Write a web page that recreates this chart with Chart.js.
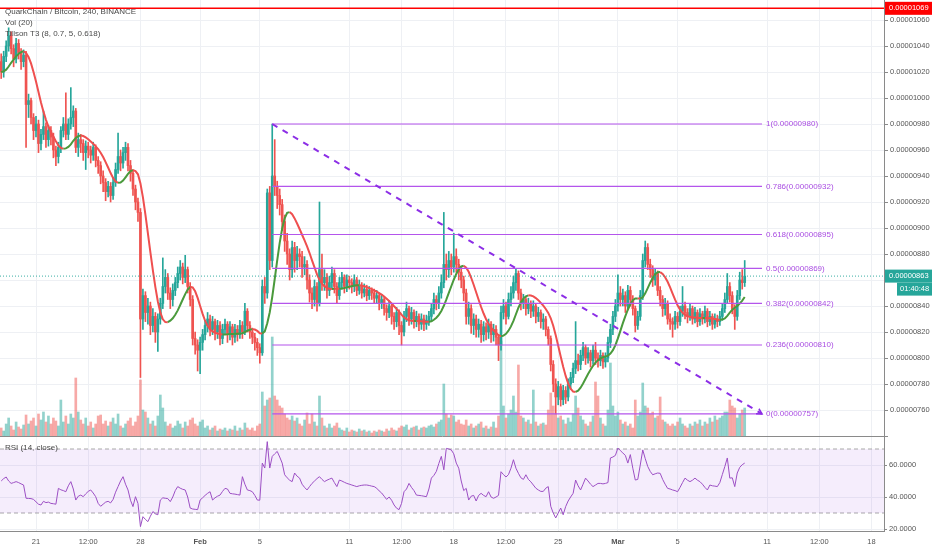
<!DOCTYPE html>
<html>
<head>
<meta charset="utf-8">
<script src="https://cdn.jsdelivr.net/npm/chart.js@4.4.1/dist/chart.umd.min.js"></script>
<style>
    body { margin: 0; background: #fff; }
    #wrap { position: relative; width: 932px; height: 550px; overflow: hidden; }
    #main { position: absolute; left: 0; top: 0; }
    #rsi { position: absolute; left: 0; top: 437px; }
</style>
</head>
<body>
<div id="wrap">
    <canvas id="main" width="932" height="437"></canvas>
    <canvas id="rsi" width="932" height="113"></canvas>
</div>
<script>
// prices in satoshi (1e-8 BTC), 4h candles: open, high, low, close
const candles = [
    [1028,1034,1015,1020],[1020,1036,1016,1032],[1032,1044,1028,1040],[1040,1054,1036,1048],[1048,1051,1034,1038],[1038,1041,1024,1030],[1030,1046,1027,1042],[1042,1045,1030,1035],[1035,1038,1022,1028],[1028,1037,1024,1033],
    [1033,1036,962,995],[995,1003,985,998],[998,1000,980,985],[985,988,968,975],[975,986,970,980],[980,983,958,965],[965,976,960,972],[972,990,968,978],[978,981,962,968],[968,979,963,975],
    [975,978,964,970],[970,973,954,960],[960,963,948,955],[955,966,950,962],[962,978,958,975],[975,985,970,980],[980,1004,968,972],[972,984,968,980],[980,1008,976,985],[985,994,978,990],
    [990,992,958,962],[962,973,955,968],[968,972,958,965],[965,968,952,958],[958,967,945,963],[963,966,954,960],[960,963,950,956],[956,966,952,962],[962,964,947,952],[952,955,942,948],
    [948,951,934,940],[940,944,928,935],[935,938,921,928],[928,936,924,932],[932,935,920,925],[925,939,922,935],[935,950,932,945],[945,973,942,955],[955,960,944,950],[950,962,946,958],
    [958,966,952,962],[962,965,944,948],[948,952,936,942],[942,945,925,930],[930,933,914,920],[920,923,905,912],[912,915,785,830],[830,853,822,848],[848,851,828,835],[835,846,826,840],
    [840,843,818,825],[825,838,820,832],[832,835,812,820],[820,834,805,830],[830,846,826,842],[842,877,838,855],[855,868,850,862],[862,865,845,850],[850,854,838,845],[845,857,840,852],
    [852,862,848,858],[858,870,854,865],[865,875,860,870],[870,873,857,862],[862,879,858,868],[868,870,850,855],[855,858,840,845],[845,848,810,815],[815,820,803,810],[810,814,790,806],
    [806,816,788,812],[812,822,806,818],[818,829,814,825],[825,835,820,830],[830,833,817,822],[822,832,818,828],[828,830,814,820],[820,829,815,825],[825,828,810,815],[815,826,811,822],
    [822,830,818,826],[826,828,812,818],[818,828,814,824],[824,826,810,816],[816,826,812,822],[822,825,813,818],[818,829,815,825],[825,828,815,820],[820,842,818,836],[836,838,820,825],
    [825,828,815,820],[820,823,811,816],[816,819,806,812],[812,815,802,808],[808,811,796,804],[804,860,802,855],[855,862,842,850],[850,930,846,927],[927,932,868,875],[875,980,870,940],
    [940,968,925,932],[932,936,915,925],[925,930,910,918],[918,922,898,905],[905,910,882,890],[890,896,872,880],[880,884,860,868],[868,890,862,885],[885,889,866,875],[875,886,868,880],
    [880,884,870,878],[878,882,862,870],[870,878,864,872],[872,875,853,860],[860,864,843,850],[850,854,838,845],[845,860,840,855],[855,858,836,842],[842,920,840,868],[868,880,852,858],
    [858,868,852,862],[862,865,846,852],[852,863,848,858],[858,870,854,865],[865,868,850,855],[855,858,842,848],[848,862,845,858],[858,866,853,862],[862,864,850,855],[855,864,851,860],
    [860,863,853,858],[858,861,850,855],[855,864,851,860],[860,862,848,852],[852,860,849,856],[856,858,846,850],[850,857,847,853],[853,856,844,848],[848,855,845,852],[852,854,845,850],
    [850,853,842,846],[846,852,842,848],[848,850,837,842],[842,849,838,845],[845,847,833,838],[838,841,829,835],[835,844,831,840],[840,842,826,832],[832,835,822,828],[828,839,824,835],
    [835,837,818,825],[825,828,810,820],[820,836,817,832],[832,843,828,838],[838,840,825,830],[830,839,826,835],[835,837,823,828],[828,836,824,832],[832,834,821,826],[826,834,822,830],
    [830,833,821,826],[826,833,822,829],[829,836,825,832],[832,842,828,838],[838,850,834,845],[845,848,837,842],[842,855,838,850],[850,864,846,858],[858,912,854,872],[872,880,860,868],
    [868,882,862,875],[875,880,864,870],[870,896,866,878],[878,884,866,872],[872,876,860,866],[866,870,854,860],[860,863,844,850],[850,853,826,832],[832,843,826,838],[838,841,819,825],
    [825,834,818,830],[830,833,816,822],[822,830,816,826],[826,829,812,818],[818,828,813,824],[824,827,814,820],[820,830,815,826],[826,828,812,818],[818,826,813,822],[822,825,810,816],
    [816,818,798,810],[810,840,806,835],[835,845,830,840],[840,843,826,832],[832,850,830,845],[845,855,840,850],[850,863,846,858],[858,869,852,865],[865,867,845,850],[850,853,837,842],
    [842,849,838,845],[845,847,833,838],[838,846,834,842],[842,844,831,836],[836,844,832,840],[840,842,827,832],[832,839,828,835],[835,837,823,828],[828,834,822,830],[830,832,817,822],
    [822,824,810,815],[815,817,790,795],[795,798,774,780],[780,784,757,770],[770,782,764,778],[778,780,763,768],[768,779,764,775],[775,778,765,770],[770,784,767,780],[780,789,776,785],
    [785,796,781,792],[792,828,788,798],[798,803,790,795],[795,806,791,802],[802,812,798,808],[808,810,795,800],[800,808,796,804],[804,806,793,798],[798,810,795,806],[806,812,795,800],
    [800,804,793,798],[798,806,794,802],[802,804,792,797],[797,804,793,800],[800,816,797,812],[812,826,808,822],[822,836,818,832],[832,845,828,840],[840,864,836,850],[850,855,840,845],
    [845,853,840,848],[848,851,835,840],[840,856,837,852],[852,855,840,845],[845,848,833,838],[838,840,820,825],[825,836,822,832],[832,852,829,848],[848,880,845,875],[875,890,870,885],
    [885,888,868,872],[872,876,862,868],[868,871,855,860],[860,869,856,865],[865,867,848,852],[852,855,840,845],[845,848,832,838],[838,846,833,842],[842,844,826,830],[830,834,822,828],
    [828,831,816,826],[826,836,822,832],[832,835,823,828],[828,840,825,836],[836,855,832,840],[840,843,830,835],[835,838,827,832],[832,842,829,838],[838,840,826,830],[830,839,827,835],
    [835,837,824,828],[828,838,825,834],[834,836,826,830],[830,840,827,836],[836,838,824,828],[828,836,825,832],[832,834,822,826],[826,834,823,830],[830,833,824,828],[828,836,825,832],
    [832,842,829,838],[838,850,835,845],[845,865,842,855],[855,858,843,848],[848,851,834,838],[838,841,822,832],[832,852,829,848],[848,866,845,860],[860,868,853,858],[858,875,855,863]
];

// volume per candle (x100k QKC)
const volumes = [
    8,5,12,18,10,6,14,9,7,11, 21,12,15,18,10,22,16,24,14,20, 12,18,15,10,36,14,20,12,22,18,
    58,24,16,12,18,10,14,8,12,20, 21,12,15,10,14,18,12,22,10,8, 12,15,18,10,14,20,56,26,24,18,
    12,15,10,20,41,28,14,10,12,8, 10,15,12,8,14,10,16,18,12,10, 14,16,8,10,6,8,10,5,7,6,
    8,5,7,6,10,5,8,6,13,8, 6,8,5,10,12,44,30,36,38,99, 40,36,30,28,22,18,16,20,15,18,
    12,10,16,23,12,22,14,10,40,18, 10,8,12,8,10,13,8,6,5,8, 4,6,5,4,7,5,6,4,5,3,
    5,4,6,5,4,7,5,8,6,5, 8,10,9,11,6,8,9,10,6,8, 9,8,10,11,9,12,14,16,52,22,
    18,21,20,14,16,12,11,16,10,12, 8,10,12,14,8,10,7,9,14,8, 20,95,30,18,22,26,40,24,71,20,
    18,14,16,12,46,14,10,12,13,11, 26,43,30,22,18,20,16,12,18,14, 22,40,28,20,16,12,10,14,20,54,
    40,18,12,10,26,73,30,20,24,16, 12,14,10,12,8,36,20,24,53,30, 28,22,24,18,20,39,16,14,12,10,
    12,10,14,18,12,10,8,12,10,14, 12,16,10,14,12,18,14,20,16,18, 20,24,24,36,30,28,18,22,26,28
];

// RSI (14, close) per candle
const rsiValues = [
    50,51.5,52.5,50,48.5,49,49.6,49,48.2,47.5, 39.2,39.1,39,38.5,37,35.5,35,37.3,36.5,36.8,
    36,35.8,35.5,45.4,44.5,44,43.3,47,49.6,45, 38.1,40.5,41.2,40.2,42,43.5,44.4,42.5,40.2,36,
    34.2,35.5,36.8,37.3,36.3,38.5,43,46.5,50,52.7, 48,44.4,38,34,40.2,36,21.5,27.7,26,24.6,
    28,30.9,29.5,28.9,38.1,39.5,39.2,39,37.1,40, 44,46.5,45.5,44.8,44.4,40,33.1,32.5,32.3,32.1,
    38.1,39.5,41,42.3,43.3,38.1,39.5,40.5,41.2,43.5, 45.4,45,42.3,42,41.8,41.5,41.2,52.7,48,44.4,
    44,43.3,41,38.1,38,61.2,58.1,74.6,58.1,65.4, 67,68.5,65,61.2,53.9,52,50.5,49.6,55,53,
    51.8,48,46,44.4,46.5,48.5,50,51.5,52.7,51, 49.6,50.5,51.2,51.8,49,46.5,50.6,50,49.2,48.5,
    48,47.5,47,46.5,47,47.3,47.5,47.5,47.2,46.8, 46.5,45.5,43.8,42.5,40.5,38.5,40,38,35,33,
    32.1,36,43.3,45,48.5,46,44,41.2,41,40.8, 40.5,40.2,45,51.8,53.5,56,61,65.4,57,70.4,
    70,69.4,67,61.2,58,50,44,45.4,38.1,40.5, 41,37.5,41,42.3,41,40.2,43.3,40,39.2,40,
    41,55.8,54,52.5,54,58,63.3,58,54.8,52, 51,53.9,51,49.5,47.5,45.5,44.4,43.5,43.5,45.5,
    46.5,34.2,30,26.9,30,33.1,28.9,34,37.5,40, 42.3,50.6,47,44.4,48,51.8,50,48,46.5,47.5,
    48.5,48.5,48.2,48.5,49,64.4,65,66,70.6,69, 67.5,66,61.2,66.5,58,50.6,51,60,69.4,64,
    59.1,56,53.9,54.5,55,54.8,51,48,45.4,45, 44.4,44,43.3,46,49,51.8,50.5,49.6,50.5,51.8,
    50.5,49.6,48,46,44.4,47.5,47,46.8,46.5,49, 54,59,64.4,51.8,52,46.5,55,58.5,60.2,61.2
];

// time axis, days from Jan 21 00:00
const timeTicks = [
    { day: 0, label: "21" }, { day: 3.5, label: "12:00" }, { day: 7, label: "28" },
    { day: 11, label: "Feb", month: true }, { day: 15, label: "5" }, { day: 21, label: "11" },
    { day: 24.5, label: "12:00" }, { day: 28, label: "18" }, { day: 31.5, label: "12:00" },
    { day: 35, label: "25" }, { day: 39, label: "Mar", month: true }, { day: 43, label: "5" },
    { day: 49, label: "11" }, { day: 52.5, label: "12:00" }, { day: 56, label: "18" }
];
const firstCandleDay = -14 / 6;   // Jan 18 16:00
const candleStep = 1 / 6;         // 4h
const viewMin = -2.413, viewMax = 56.836;

const fibRatios = [1, 0.786, 0.618, 0.5, 0.382, 0.236, 0];
const fibHigh = 980, fibLow = 757;
const fibAnchorIndex = 109;
const fibEndDay = 48.66;
const markedHigh = 1069;
const lastPrice = 863;
const countdown = "01:40:48";
const rsiTicks = [20, 40, 60];

const FONT = "'Liberation Sans', Arial, sans-serif";
const UP = "#26a69a", DOWN = "#ef5350";
const gridColor = "#eef0f4", axisColor = "#8a8a8a", textColor = "#555";
const fibColor = "#b455ec", fibText = "#a94de2", trendColor = "#8c2ee6";

const times = candles.map((c, i) => firstCandleDay + i * candleStep);
const isUp = candles.map(c => c[3] >= c[0]);

// Tillson T3 from closes
function tillsonT3(src, len, vf) {
    const a = 2 / (len + 1);
    const e = [0, 0, 0, 0, 0, 0].map(() => src[0]);
    const c1 = -vf * vf * vf;
    const c2 = 3 * vf * vf + 3 * vf * vf * vf;
    const c3 = -6 * vf * vf - 3 * vf - 3 * vf * vf * vf;
    const c4 = 1 + 3 * vf + vf * vf * vf + 3 * vf * vf;
    return src.map(v => {
        let prev = v;
        for (let i = 0; i < 6; i++) {
            e[i] = e[i] + a * (prev - e[i]);
            prev = e[i];
        }
        return c1 * e[5] + c2 * e[4] + c3 * e[3] + c4 * e[2];
    });
}
const t3 = tillsonT3(candles.map(c => c[3]), 8, 0.7);

const fibStartDay = times[fibAnchorIndex];
const fibLevels = fibRatios.map(r => ({ ratio: r, price: Math.round(fibLow + r * (fibHigh - fibLow)) }));
const fmtPrice = v => (v / 1e8).toFixed(8);

function setTimeTicks(scale) {
    scale.ticks = timeTicks.map(t => ({ value: t.day }));
}
// no extra room around the plot for the edge labels
function noPadding(s) {
    s.paddingTop = 0; s.paddingBottom = 0; s.paddingLeft = 0; s.paddingRight = 0;
}

const overlayMain = {
    id: "overlayMain",
    afterDraw(chart) {
        const ctx = chart.ctx;
        const y = chart.scales.y;
        const x = chart.scales.x;
        ctx.save();

        // legend
        ctx.font = "8px " + FONT;
        ctx.fillStyle = "#4a4a4a";
        ctx.textBaseline = "middle";
        ctx.fillText("QuarkChain / Bitcoin, 240, BINANCE", 5, 11.5);
        ctx.fillText("Vol (20)", 5, 23);
        ctx.fillText("Tillson T3 (8, 0.7, 5, 0.618)", 5, 34);

        // fib labels
        const xEnd = x.getPixelForValue(fibEndDay);
        ctx.fillStyle = fibText;
        fibLevels.forEach(f => {
            ctx.fillText(f.ratio + "(" + fmtPrice(f.price) + ")", xEnd + 4, y.getPixelForValue(f.price));
        });

        // arrow at the end of the trend line
        const x0 = x.getPixelForValue(fibStartDay), y0 = y.getPixelForValue(fibHigh);
        const y1 = y.getPixelForValue(fibLow);
        const ang = Math.atan2(y1 - y0, xEnd - x0);
        ctx.strokeStyle = trendColor;
        ctx.lineWidth = 1.5;
        ctx.beginPath();
        ctx.moveTo(xEnd - 6 * Math.cos(ang - 0.5), y1 - 6 * Math.sin(ang - 0.5));
        ctx.lineTo(xEnd, y1);
        ctx.lineTo(xEnd - 6 * Math.cos(ang + 0.5), y1 - 6 * Math.sin(ang + 0.5));
        ctx.stroke();

        // price labels on the axis
        const ax = chart.chartArea.right + 1;
        const boxW = 932 - ax;
        ctx.font = "7.5px " + FONT;
        const yr = y.getPixelForValue(markedHigh);
        ctx.fillStyle = "#f00";
        ctx.fillRect(ax, yr - 6.5, boxW, 13);
        ctx.fillStyle = "#fff";
        ctx.fillText(fmtPrice(markedHigh), ax + 4, yr);

        const yp = y.getPixelForValue(lastPrice);
        ctx.fillStyle = UP;
        ctx.fillRect(ax, yp - 6.5, boxW, 13);
        ctx.fillRect(ax + 12, yp + 6.5, boxW - 12, 13);
        ctx.fillStyle = "#fff";
        ctx.fillText(fmtPrice(lastPrice), ax + 4, yp);
        ctx.fillText(countdown, ax + 15, yp + 13);
        ctx.restore();
    }
};

const mainDatasets = [
    {
        type: "bar", label: "vol", yAxisID: "yVol", order: 10, grouped: false, barThickness: 2,
        data: volumes.map((v, i) => ({ x: times[i], y: v })),
        backgroundColor: isUp.map(u => u ? "rgba(38,166,154,0.5)" : "rgba(239,83,80,0.5)")
    },
    {
        type: "bar", label: "wick", yAxisID: "y", order: 6, grouped: false, barThickness: 1,
        data: candles.map((c, i) => ({ x: times[i], y: [c[2], c[1]] })),
        backgroundColor: isUp.map(u => u ? UP : DOWN)
    },
    {
        type: "bar", label: "body", yAxisID: "y", order: 5, grouped: false, barThickness: 2,
        data: candles.map((c, i) => ({ x: times[i], y: [Math.min(c[0], c[3]), Math.max(c[0], c[3])] })),
        backgroundColor: isUp.map(u => u ? UP : DOWN)
    },
    {
        type: "line", label: "T3", yAxisID: "y", order: 3,
        data: t3.map((v, i) => ({ x: times[i], y: v })),
        borderWidth: 2, pointRadius: 0, borderColor: "#4a9a3c",
        segment: { borderColor: c => c.p1.parsed.y >= c.p0.parsed.y ? "#4a9a3c" : "#ef4f4f" }
    },
    ...fibLevels.map(f => ({
        type: "line", label: "fib" + f.ratio, yAxisID: "y", order: 2,
        data: [{ x: fibStartDay, y: f.price }, { x: fibEndDay, y: f.price }],
        borderWidth: 1.2, pointRadius: 0, borderColor: fibColor
    })),
    {
        type: "line", label: "trend", yAxisID: "y", order: 1,
        data: [{ x: fibStartDay, y: fibHigh }, { x: fibEndDay, y: fibLow }],
        borderWidth: 2, pointRadius: 0, borderColor: trendColor, borderDash: [6, 6]
    },
    {
        type: "line", label: "high", yAxisID: "y", order: 1,
        data: [{ x: viewMin, y: markedHigh }, { x: viewMax, y: markedHigh }],
        borderWidth: 1.5, pointRadius: 0, borderColor: "#f00"
    },
    {
        type: "line", label: "last", yAxisID: "y", order: 1,
        data: [{ x: viewMin, y: lastPrice }, { x: viewMax, y: lastPrice }],
        borderWidth: 1, pointRadius: 0, borderColor: "rgba(38,166,154,0.9)", borderDash: [1, 2]
    }
];

new Chart(document.getElementById("main"), {
    type: "bar",
    data: { datasets: mainDatasets },
    options: {
        responsive: false,
        animation: false,
        layout: { padding: 0 },
        plugins: { legend: { display: false }, tooltip: { enabled: false } },
        scales: {
            x: {
                type: "linear", min: viewMin, max: viewMax, offset: false,
                afterBuildTicks: setTimeTicks,
                ticks: { display: false },
                grid: { color: gridColor, drawTicks: false, offset: false },
                border: { display: true, color: axisColor },
                afterFit: s => { s.height = 1; noPadding(s); }
            },
            y: {
                type: "linear", position: "right", min: 740, max: 1075.4,
                ticks: {
                    stepSize: 20, includeBounds: false, padding: 2,
                    color: textColor, font: { family: FONT, size: 7.5 },
                    callback: v => v === 740 ? "" : fmtPrice(v)
                },
                grid: { color: gridColor, tickLength: 4, tickColor: axisColor },
                border: { color: axisColor },
                afterFit: s => { s.width = 48; noPadding(s); }
            },
            yVol: { type: "linear", display: false, min: 0, max: 436 }
        }
    },
    plugins: [overlayMain]
});

const overlayRsi = {
    id: "overlayRsi",
    afterDraw(chart) {
        const ctx = chart.ctx;
        ctx.save();
        ctx.font = "8px " + FONT;
        ctx.fillStyle = "#4a4a4a";
        ctx.textBaseline = "middle";
        ctx.fillText("RSI (14, close)", 5, 11);
        ctx.restore();
    }
};

new Chart(document.getElementById("rsi"), {
    type: "line",
    data: {
        datasets: [
            {
                label: "upper", data: [{ x: viewMin, y: 70 }, { x: viewMax, y: 70 }],
                borderColor: "#a8a8a8", borderWidth: 1, borderDash: [4, 3], pointRadius: 0,
                fill: "+1", backgroundColor: "rgba(155,80,230,0.1)", order: 3
            },
            {
                label: "lower", data: [{ x: viewMin, y: 30 }, { x: viewMax, y: 30 }],
                borderColor: "#a8a8a8", borderWidth: 1, borderDash: [4, 3], pointRadius: 0,
                fill: false, order: 3
            },
            {
                label: "RSI", data: rsiValues.map((v, i) => ({ x: times[i], y: v })),
                borderColor: "#9c4fc4", borderWidth: 1, pointRadius: 0, fill: false, order: 1
            }
        ]
    },
    options: {
        responsive: false,
        animation: false,
        layout: { padding: 0 },
        plugins: { legend: { display: false }, tooltip: { enabled: false } },
        scales: {
            x: {
                type: "linear", min: viewMin, max: viewMax, offset: false,
                afterBuildTicks: setTimeTicks,
                ticks: {
                    autoSkip: false, maxRotation: 0, padding: 6, color: textColor,
                    font: c => {
                        const t = timeTicks.find(tt => c.tick && tt.day === c.tick.value);
                        return { family: FONT, size: 7.5, weight: t && t.month ? "bold" : "normal" };
                    },
                    callback: v => {
                        const t = timeTicks.find(tt => tt.day === v);
                        return t ? t.label : "";
                    }
                },
                grid: { color: gridColor, drawTicks: false },
                border: { color: axisColor },
                afterFit: s => { s.height = 19; noPadding(s); }
            },
            y: {
                type: "linear", position: "right", min: 18.75, max: 77.5,
                afterBuildTicks: s => { s.ticks = rsiTicks.map(v => ({ value: v })); },
                ticks: {
                    padding: 2, color: textColor, font: { family: FONT, size: 7.5 },
                    callback: v => v.toFixed(4)
                },
                grid: { color: gridColor, tickLength: 3, tickColor: axisColor },
                border: { color: axisColor },
                afterFit: s => { s.width = 48; noPadding(s); }
            }
        }
    },
    plugins: [overlayRsi]
});
</script>
</body>
</html>
